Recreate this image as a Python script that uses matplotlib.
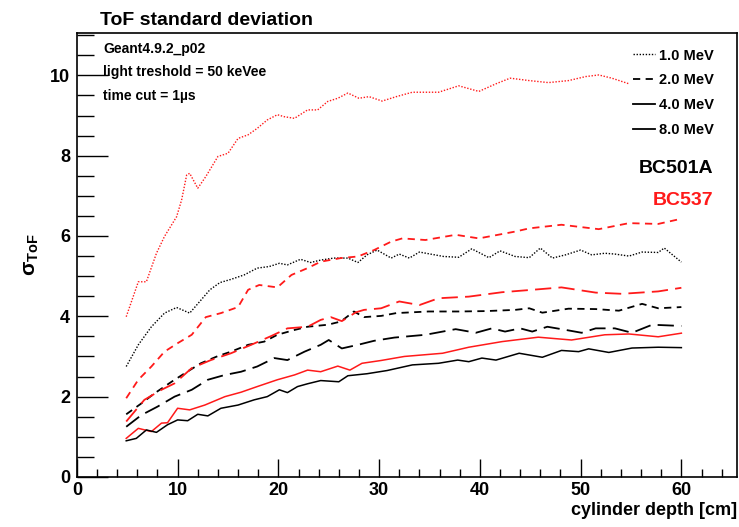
import matplotlib
matplotlib.use('Agg')
from matplotlib import pyplot as plt
from matplotlib.ticker import MultipleLocator

plt.rcParams['font.family'] = ['Liberation Sans', 'DejaVu Sans']
plt.rcParams['font.weight'] = 'bold'
plt.rcParams['mathtext.fontset'] = 'custom'
plt.rcParams['mathtext.rm'] = 'Liberation Sans:bold'
plt.rcParams['mathtext.it'] = 'Liberation Sans:bold'
plt.rcParams['mathtext.bf'] = 'Liberation Sans:bold'

# BC537, 1 MeV (red dotted)
x_537_1 = [4.9, 6.1, 6.9, 7.9, 8.7, 9.9, 10.4, 10.9, 11.2, 12.0, 12.8, 14.0, 15.0, 16.0, 17.0,
           17.9, 18.9, 19.9, 20.6, 21.6, 22.9, 23.9, 24.9, 25.9, 26.9, 28.0, 29.0, 30.3, 31.7,
           33.3, 35.9, 37.9, 39.9, 41.6, 43.0, 44.9, 46.8, 48.8, 50.5, 51.8, 53.1, 54.8]
y_537_1 = [3.99, 4.86, 4.86, 5.57, 5.99, 6.48, 6.9, 7.52, 7.56, 7.19, 7.48, 7.98, 8.06, 8.43, 8.52,
           8.68, 8.89, 9.02, 8.97, 8.93, 9.14, 9.14, 9.35, 9.43, 9.56, 9.43, 9.47, 9.36, 9.47,
           9.58, 9.58, 9.74, 9.60, 9.79, 9.93, 9.87, 9.82, 9.87, 9.97, 10.01, 9.93, 9.79]

# BC501A, 1 MeV (black dotted)
x_501_1 = [4.9, 6.1, 7.4, 8.7, 9.9, 11.2, 12.2, 13.2, 14.2, 15.3, 16.6, 17.9, 19.1, 20.1, 20.9,
           22.2, 23.2, 24.2, 25.5, 26.9, 27.9, 28.8, 29.8, 31.2, 32.0, 33.0, 34.0, 36.4, 37.9,
           39.2, 40.9, 42.0, 43.5, 44.9, 46.0, 47.2, 48.5, 50.0, 51.1, 52.4, 53.4, 54.8, 56.1,
           57.7, 58.3, 60.0]
y_501_1 = [2.75, 3.29, 3.74, 4.08, 4.22, 4.08, 4.37, 4.66, 4.84, 4.92, 5.03, 5.20, 5.24, 5.32, 5.28,
           5.42, 5.34, 5.40, 5.45, 5.45, 5.34, 5.53, 5.65, 5.45, 5.55, 5.45, 5.60, 5.49, 5.47,
           5.68, 5.46, 5.63, 5.49, 5.46, 5.70, 5.45, 5.53, 5.65, 5.53, 5.57, 5.55, 5.50, 5.60,
           5.59, 5.70, 5.35]

# BC537, 2 MeV (red dashed)
x_537_2 = [4.9, 6.1, 7.4, 8.7, 10.0, 11.4, 12.8, 14.3, 16.0, 17.0, 18.1, 19.9, 21.3, 22.9, 24.2,
           26.2, 27.9, 29.5, 31.2, 32.3, 34.6, 37.6, 39.9, 43.5, 44.9, 48.1, 51.8, 54.8, 57.7, 60.0]
y_537_2 = [1.96, 2.42, 2.75, 3.12, 3.33, 3.54, 3.98, 4.08, 4.23, 4.66, 4.78, 4.72, 5.03, 5.20, 5.36,
           5.45, 5.49, 5.65, 5.86, 5.94, 5.90, 6.03, 5.94, 6.11, 6.19, 6.28, 6.17, 6.32, 6.30, 6.43]

# BC501A, 2 MeV (black dashed)
x_501_2 = [4.9, 6.4, 7.7, 9.4, 10.7, 12.3, 14.0, 15.3, 17.0, 18.6, 19.9, 21.6, 22.9, 24.9, 26.2,
           27.5, 28.5, 30.2, 31.7, 34.9, 37.9, 40.6, 43.5, 44.9, 46.2, 48.8, 51.5, 53.8, 56.1,
           57.7, 60.0]
y_501_2 = [1.56, 1.83, 2.08, 2.37, 2.58, 2.83, 3.01, 3.12, 3.29, 3.37, 3.54, 3.66, 3.74, 3.79, 3.87,
           4.12, 3.98, 4.01, 4.08, 4.12, 4.12, 4.13, 4.16, 4.20, 4.09, 4.19, 4.18, 4.14, 4.31,
           4.20, 4.23]

# BC537, 4 MeV (red long dashed)
x_537_4 = [4.9, 6.7, 8.4, 9.7, 11.4, 13.3, 15.3, 17.3, 19.3, 20.9, 22.9, 24.2, 25.2, 26.3, 27.7,
           28.5, 30.2, 32.0, 34.0, 35.9, 38.9, 42.2, 45.2, 48.1, 51.5, 54.1, 57.7, 60.0]
y_537_4 = [1.38, 1.92, 2.17, 2.33, 2.71, 2.91, 3.08, 3.29, 3.51, 3.70, 3.74, 3.91, 3.98, 3.88, 4.10,
           4.16, 4.20, 4.37, 4.28, 4.45, 4.49, 4.60, 4.66, 4.72, 4.59, 4.56, 4.62, 4.71]

# BC501A, 4 MeV (black long dashed)
x_501_4 = [4.9, 6.4, 8.0, 9.7, 11.4, 13.0, 14.7, 16.3, 17.9, 19.6, 20.9, 22.6, 24.2, 25.0, 26.3,
           27.9, 29.5, 31.5, 34.6, 37.6, 39.6, 41.2, 42.5, 44.0, 45.2, 46.7, 48.1, 50.1, 51.5,
           53.4, 55.1, 57.1, 60.0]
y_501_4 = [1.25, 1.54, 1.75, 2.00, 2.17, 2.42, 2.54, 2.62, 2.75, 2.96, 2.91, 3.12, 3.29, 3.41, 3.20,
           3.29, 3.39, 3.47, 3.54, 3.68, 3.59, 3.70, 3.62, 3.70, 3.62, 3.74, 3.68, 3.59, 3.70,
           3.70, 3.59, 3.79, 3.76]

# BC537, 8 MeV (red solid)
x_537_8 = [4.9, 6.1, 7.4, 8.4, 9.0, 10.0, 11.2, 12.7, 14.7, 16.3, 17.9, 19.9, 21.6, 22.9, 24.2,
           25.9, 27.1, 28.3, 30.2, 32.5, 36.3, 38.9, 42.2, 45.8, 49.1, 52.4, 54.8, 57.7, 60.0]
y_537_8 = [0.96, 1.21, 1.13, 1.34, 1.35, 1.71, 1.67, 1.79, 2.00, 2.11, 2.25, 2.42, 2.54, 2.66, 2.62,
           2.76, 2.66, 2.83, 2.90, 3.00, 3.08, 3.23, 3.37, 3.48, 3.41, 3.54, 3.56, 3.49, 3.58]

# BC501A, 8 MeV (black solid)
x_501_8 = [4.9, 5.9, 6.9, 7.9, 9.0, 10.0, 11.0, 12.0, 13.0, 14.3, 16.0, 17.6, 18.9, 20.1, 20.9,
           21.9, 22.9, 24.2, 26.0, 26.9, 28.8, 30.8, 33.3, 35.9, 37.8, 38.9, 40.2, 41.6, 43.9,
           46.2, 48.1, 49.8, 50.8, 52.8, 55.1, 57.7, 60.0]
y_501_8 = [0.90, 0.96, 1.17, 1.11, 1.30, 1.42, 1.40, 1.56, 1.52, 1.71, 1.79, 1.92, 2.00, 2.17, 2.10,
           2.25, 2.32, 2.40, 2.37, 2.52, 2.57, 2.65, 2.79, 2.83, 2.91, 2.87, 2.96, 2.91, 3.08,
           2.98, 3.15, 3.12, 3.19, 3.10, 3.21, 3.23, 3.22]

fig = plt.figure(figsize=(7.39, 5.27), dpi=100)
ax = fig.add_axes([0.104, 0.095, 0.893, 0.842])

dot = (0, (1, 1.2))
dash = (0, (4, 3))
ldash = (0, (9, 4))
red = '#ff1a1a'

ax.plot(x_537_1, y_537_1, color=red, ls=dot, lw=1.0)
ax.plot(x_501_1, y_501_1, color='k', ls=dot, lw=1.0)
ax.plot(x_537_2, y_537_2, color=red, ls=dash, lw=1.3)
ax.plot(x_501_2, y_501_2, color='k', ls=dash, lw=1.3)
ax.plot(x_537_4, y_537_4, color=red, ls=ldash, lw=1.3)
ax.plot(x_501_4, y_501_4, color='k', ls=ldash, lw=1.3)
ax.plot(x_537_8, y_537_8, color=red, ls='-', lw=1.1)
ax.plot(x_501_8, y_501_8, color='k', ls='-', lw=1.1)

# legend handles
h1, = ax.plot([], [], color='k', ls=dot, lw=1.0, label='1.0 MeV')
h2, = ax.plot([], [], color='k', ls=dash, lw=1.3, label='2.0 MeV')
h3, = ax.plot([], [], color='k', ls='-', lw=1.3, label='4.0 MeV')
h4, = ax.plot([], [], color='k', ls='-', lw=1.3, label='8.0 MeV')
leg = ax.legend(handles=[h1, h2, h3, h4], loc='upper right', bbox_to_anchor=(0.986, 0.995),
                frameon=False, handlelength=1.5, handletextpad=0.3, labelspacing=0.75,
                prop={'weight': 'bold', 'size': 10.5})

ax.text(0.964, 0.695, 'BC501A', transform=ax.transAxes, ha='right', va='center',
        fontsize=14, fontweight='bold', color='k')
ax.text(0.964, 0.622, 'BC537', transform=ax.transAxes, ha='right', va='center',
        fontsize=14, fontweight='bold', color=red)

ax.text(0.04, 0.965, 'Geant4.9.2_p02', transform=ax.transAxes, ha='left', va='center',
        fontsize=10, fontweight='bold')
ax.text(0.04, 0.912, 'light treshold = 50 keVee', transform=ax.transAxes, ha='left',
        va='center', fontsize=10, fontweight='bold')
ax.text(0.04, 0.858, 'time cut = 1\u00b5s', transform=ax.transAxes, ha='left', va='center',
        fontsize=10, fontweight='bold')

fig.text(0.135, 0.962, 'ToF standard deviation', ha='left', va='center', fontsize=14,
         fontweight='bold')

ax.set_xlim(0, 65.5)
ax.set_ylim(0, 11.05)
ax.xaxis.set_major_locator(MultipleLocator(10))
ax.xaxis.set_minor_locator(MultipleLocator(2))
ax.yaxis.set_major_locator(MultipleLocator(2))
ax.yaxis.set_minor_locator(MultipleLocator(0.5))
ax.tick_params(axis='both', which='both', direction='in', top=False, right=False,
               labelsize=13, width=1.0)
ax.tick_params(axis='x', which='major', length=13, pad=4)
ax.tick_params(axis='x', which='minor', length=6)
ax.tick_params(axis='y', which='major', length=22, pad=5)
ax.tick_params(axis='y', which='minor', length=12)
for lab in ax.get_xticklabels() + ax.get_yticklabels():
    lab.set_fontweight('bold')
for s in ax.spines.values():
    s.set_linewidth(1.2)

ax.set_xlabel('cylinder depth [cm]', fontsize=13, fontweight='bold', loc='right', labelpad=2)
ax.set_ylabel(r'$\sigma_{ToF}$', fontsize=15, labelpad=6)

fig.savefig('out.png', dpi=100)
